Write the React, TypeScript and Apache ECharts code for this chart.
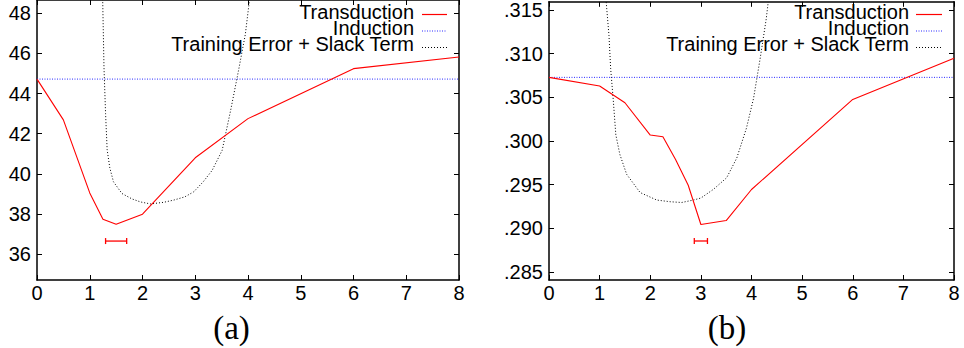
import React, { useEffect, useRef } from 'react';
import * as echarts from 'echarts';

// ---------- data ----------
const xTickValues = [0, 1, 2, 3, 4, 5, 6, 7, 8];
const yTicksA = [36, 38, 40, 42, 44, 46, 48];
const yTicksB = [0.285, 0.29, 0.295, 0.3, 0.305, 0.31, 0.315];

// panel (a)
const transX_A = [0, 0.5, 1, 1.25, 1.5, 2, 3, 4, 6, 8];
const transY_A = [44.72, 42.69, 39.05, 37.74, 37.49, 37.99, 40.8, 42.75, 45.24, 45.82];
const inductionA = 44.72;
const slackX_A = [1.245, 1.27, 1.3, 1.33, 1.38, 1.45, 1.61, 1.8, 1.96, 2.15, 2.4, 2.59, 2.8, 2.97, 3.15, 3.32, 3.51, 3.67, 3.82, 3.95, 4.03];
const slackY_A = [48.7, 45.3, 43.0, 41.2, 40.3, 39.6, 39.02, 38.75, 38.6, 38.5, 38.58, 38.69, 38.85, 39.1, 39.6, 40.17, 41.17, 43.15, 45.14, 46.96, 48.7];
const errA = [1.5, 0.2, 36.65]; // center, half width, y

// panel (b)
const transX_B = [0, 1, 1.5, 2, 2.25, 2.5, 2.75, 3, 3.5, 4, 6, 8];
const transY_B = [0.30728, 0.3063, 0.30437, 0.30067, 0.30048, 0.29787, 0.29492, 0.29042, 0.29087, 0.29443, 0.30475, 0.30948];
const inductionB = 0.30728;
const slackX_B = [1.13, 1.185, 1.218, 1.27, 1.32, 1.4, 1.534, 1.8, 2.13, 2.39, 2.62, 2.85, 3.0, 3.25, 3.51, 3.71, 3.9, 4.04, 4.17, 4.29, 4.33];
const slackY_B = [0.3159, 0.31205, 0.30827, 0.30464, 0.3007, 0.29844, 0.29617, 0.29408, 0.29322, 0.29303, 0.29294, 0.29322, 0.29345, 0.29446, 0.29578, 0.29805, 0.30146, 0.30486, 0.3094, 0.31394, 0.3159];
const errB = [3.0, 0.13, 0.28853];

const legendLabels = ['Transduction', 'Induction', 'Training Error + Slack Term'];
const panelLabels = ['(a)', '(b)'];

// ---------- styles ----------
const RED = '#ff0000';
const BLUE = '#2a2aff';
const BLACK = '#000000';
const SANS = '"Liberation Sans", Arial, Helvetica, sans-serif';
const SERIF = '"Liberation Serif", "Times New Roman", serif';

const zip = (xs: number[], ys: number[]) => xs.map((x, i) => [x, ys[i]]);

function errRender(params: any, api: any) {
  const c = api.value(0);
  const h = api.value(1);
  const y = api.value(2);
  const p1 = api.coord([c - h, y]);
  const p2 = api.coord([c + h, y]);
  const cap = 3;
  const st = { stroke: RED, lineWidth: 1.3 };
  return {
    type: 'group',
    children: [
      { type: 'line', shape: { x1: p1[0], y1: p1[1], x2: p2[0], y2: p2[1] }, style: st },
      { type: 'line', shape: { x1: p1[0], y1: p1[1] - cap, x2: p1[0], y2: p1[1] + cap }, style: st },
      { type: 'line', shape: { x1: p2[0], y1: p2[1] - cap, x2: p2[0], y2: p2[1] + cap }, style: st },
    ],
  };
}

export default function App() {
  const ref = useRef<HTMLDivElement>(null);

  useEffect(() => {
    if (!ref.current) return;
    const chart = echarts.init(ref.current, null, { renderer: 'svg' });

    const frameLine = { show: true, lineStyle: { color: BLACK, width: 1.5 } };
    const tickIn = { show: true, inside: true, length: 5, lineStyle: { color: BLACK, width: 1 } };

    const xBottom = (gridIndex: number) => ({
      type: 'value', gridIndex, position: 'bottom', min: 0, max: 8, interval: 1,
      axisLine: { ...frameLine, onZero: false },
      axisTick: tickIn,
      splitLine: { show: false },
      axisLabel: { show: true, color: BLACK, fontSize: 20, fontFamily: SANS, margin: 3, showMinLabel: true, showMaxLabel: true },
    });
    const xTop = (gridIndex: number) => ({
      type: 'value', gridIndex, position: 'top', min: 0, max: 8, interval: 1,
      axisLine: { ...frameLine, onZero: false },
      axisTick: tickIn,
      splitLine: { show: false },
      axisLabel: { show: false },
    });
    const yLeft = (gridIndex: number, min: number, max: number, ticks: number[], fmt: (v: number) => string) => ({
      type: 'value', gridIndex, position: 'left', min, max,
      axisLine: { ...frameLine, onZero: false },
      axisTick: { ...tickIn, customValues: ticks },
      splitLine: { show: false },
      axisLabel: { show: true, color: BLACK, fontSize: 20, fontFamily: SANS, margin: 6, customValues: ticks, formatter: fmt },
    });
    const yRight = (gridIndex: number, min: number, max: number, ticks: number[]) => ({
      type: 'value', gridIndex, position: 'right', min, max,
      axisLine: { ...frameLine, onZero: false },
      axisTick: { ...tickIn, customValues: ticks },
      splitLine: { show: false },
      axisLabel: { show: false, customValues: ticks },
    });

    const minA = 34.71, maxA = 48.66;
    const minB = 0.28406, maxB = 0.31594;

    const legendGroup = (textRight: number, lineStart: number, lineEnd: number) => {
      const rowsText = [11.5, 27.5, 43.5];
      const rowsLine = [14.5, 31, 47.5];
      const styles = [
        { stroke: RED, lineWidth: 1.2 },
        { stroke: BLUE, lineWidth: 1, lineDash: [1, 1.5] },
        { stroke: BLACK, lineWidth: 1, lineDash: [1, 2] },
      ];
      const els: any[] = [];
      legendLabels.forEach((t, i) => {
        els.push({
          type: 'text', x: textRight, y: rowsText[i],
          style: { text: t, fill: BLACK, fontSize: 20, lineHeight: 15, fontFamily: SANS, textAlign: 'right', textVerticalAlign: 'middle' },
          z: 100,
        });
        els.push({
          type: 'line', shape: { x1: lineStart, y1: rowsLine[i], x2: lineEnd, y2: rowsLine[i] },
          style: styles[i], z: 100,
        });
      });
      return els;
    };

    const option: any = {
      animation: false,
      backgroundColor: '#ffffff',
      grid: [
        { left: 37, right: 964 - 459, top: -1, bottom: 68, containLabel: false },
        { left: 549, right: 964 - 954, top: -1, bottom: 68, containLabel: false },
      ],
      xAxis: [xBottom(0), xTop(0), xBottom(1), xTop(1)],
      yAxis: [
        yLeft(0, minA, maxA, yTicksA, (v: number) => String(v)),
        yRight(0, minA, maxA, yTicksA),
        yLeft(1, minB, maxB, yTicksB, (v: number) => v.toFixed(3).replace(/^0/, '')),
        yRight(1, minB, maxB, yTicksB),
      ],
      series: [
        {
          type: 'line', xAxisIndex: 0, yAxisIndex: 0, data: zip(slackX_A, slackY_A),
          showSymbol: false, symbol: 'none', clip: true,
          lineStyle: { color: BLACK, width: 1, type: [1, 2] },
        },
        {
          type: 'line', xAxisIndex: 0, yAxisIndex: 0, data: [[xTickValues[0], inductionA], [xTickValues[xTickValues.length - 1], inductionA]],
          showSymbol: false, symbol: 'none', clip: true,
          lineStyle: { color: BLUE, width: 1, type: [1, 1.5] },
        },
        {
          type: 'line', xAxisIndex: 0, yAxisIndex: 0, data: zip(transX_A, transY_A),
          showSymbol: false, symbol: 'none', clip: true,
          lineStyle: { color: RED, width: 1.1 },
        },
        {
          type: 'custom', xAxisIndex: 0, yAxisIndex: 0, data: [errA],
          encode: { x: 0, y: 2 }, renderItem: errRender,
        },
        {
          type: 'line', xAxisIndex: 2, yAxisIndex: 2, data: zip(slackX_B, slackY_B),
          showSymbol: false, symbol: 'none', clip: true,
          lineStyle: { color: BLACK, width: 1, type: [1, 2] },
        },
        {
          type: 'line', xAxisIndex: 2, yAxisIndex: 2, data: [[xTickValues[0], inductionB], [xTickValues[xTickValues.length - 1], inductionB]],
          showSymbol: false, symbol: 'none', clip: true,
          lineStyle: { color: BLUE, width: 1, type: [1, 1.5] },
        },
        {
          type: 'line', xAxisIndex: 2, yAxisIndex: 2, data: zip(transX_B, transY_B),
          showSymbol: false, symbol: 'none', clip: true,
          lineStyle: { color: RED, width: 1.1 },
        },
        {
          type: 'custom', xAxisIndex: 2, yAxisIndex: 2, data: [errB],
          encode: { x: 0, y: 2 }, renderItem: errRender,
        },
      ],
      graphic: [
        ...legendGroup(414, 422, 447),
        ...legendGroup(909, 916, 942),
        {
          type: 'text', x: 231.5, y: 328,
          style: { text: panelLabels[0], fill: BLACK, fontSize: 33, fontFamily: SERIF, textAlign: 'center', textVerticalAlign: 'middle' },
        },
        {
          type: 'text', x: 727, y: 328,
          style: { text: panelLabels[1], fill: BLACK, fontSize: 33, fontFamily: SERIF, textAlign: 'center', textVerticalAlign: 'middle' },
        },
      ],
    };

    chart.setOption(option);
    return () => chart.dispose();
  }, []);

  return (
    <div
      ref={ref}
      style={{ position: 'absolute', left: 0, top: 0, width: 964, height: 348, background: '#fff' }}
    />
  );
}
